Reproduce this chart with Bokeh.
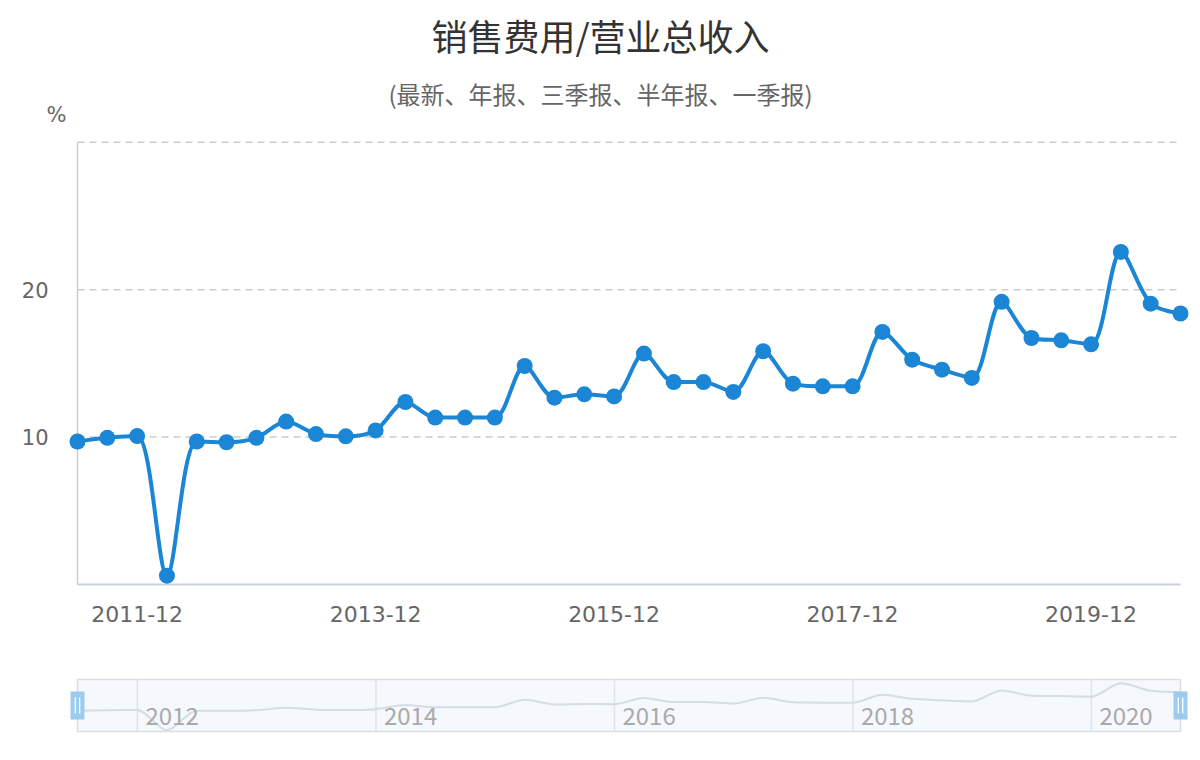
import math

from bokeh.plotting import figure
from bokeh.models import Range1d, FixedTicker
from bokeh.layouts import column, row
from bokeh.embed import file_html
from bokeh.resources import INLINE
from bokeh.core.properties import value

# quarterly report periods
periods = [
    "2011-06", "2011-09", "2011-12",
    "2012-03", "2012-06", "2012-09", "2012-12",
    "2013-03", "2013-06", "2013-09", "2013-12",
    "2014-03", "2014-06", "2014-09", "2014-12",
    "2015-03", "2015-06", "2015-09", "2015-12",
    "2016-03", "2016-06", "2016-09", "2016-12",
    "2017-03", "2017-06", "2017-09", "2017-12",
    "2018-03", "2018-06", "2018-09", "2018-12",
    "2019-03", "2019-06", "2019-09", "2019-12",
    "2020-03", "2020-06", "2020-09",
]

# 销售费用/营业总收入 (%)
ratio = [
    9.70, 9.95, 10.07,
    0.60, 9.70, 9.65, 9.95,
    11.05, 10.20, 10.05, 10.45,
    12.38, 11.32, 11.32, 11.32,
    14.82, 12.67, 12.90, 12.76,
    15.66, 13.73, 13.73, 13.06,
    15.82, 13.62, 13.44, 13.44,
    17.13, 15.25, 14.57, 14.01,
    19.17, 16.72, 16.56, 16.29,
    22.56, 19.05, 18.38,
]

x_tick_labels = ["2011-12", "2013-12", "2015-12", "2017-12", "2019-12"]
y_ticks = [10, 20]
y_grid = [10, 20, 30]
slider_years = ["2012", "2014", "2016", "2018", "2020"]

title_text = "销售费用/营业总收入"
subtitle_text = "(最新、年报、三季报、半年报、一季报)"
unit_text = "%"

CJK = "Noto Sans CJK SC"
NUM = "DejaVu Sans"
BLUE = "#1a86d5"

n = len(ratio)
idx = list(range(n))

# layout (pixels)
FIG_W = 1192
BORDER_L, BORDER_R = 62, 2
FRAME_W = FIG_W - BORDER_L - BORDER_R
PAD_L, PAD_R = 15, 10            # space between frame edge and first/last point
PX = (FRAME_W - PAD_L - PAD_R) / (n - 1)
Y_MAX = 30
PY = 442.3 / Y_MAX               # px per percent in the main chart
MAIN_FRAME_H = 452
PAD_TOP, PAD_BOT = 5.7, 4        # px above 30 and below 0
HEADER_H = 132

SHADOW_TOP = 24.3
SL_FRAME_H = 58
SL_PY = 52 / SHADOW_TOP
SL_PAD_TOP, SL_PAD_BOT = 3, 3


def smooth_segments(xs, ys, sx, sy, smooth=0.3):
    # echarts-like bezier smoothing, computed in pixel space
    pts = [(x * sx, y * sy) for x, y in zip(xs, ys)]
    out = {k: [] for k in ("x0", "y0", "x1", "y1", "cx0", "cy0", "cx1", "cy1")}
    cp0 = pts[0]
    for i in range(1, len(pts)):
        px, py = pts[i - 1]
        x, y = pts[i]
        if i == len(pts) - 1:
            c1 = (x, y)
            ncp = (x, y)
        else:
            nx, ny = pts[i + 1]
            vx, vy = nx - px, ny - py
            lp = math.hypot(x - px, y - py)
            ln = math.hypot(nx - x, ny - y)
            r = ln / (ln + lp)
            ncx = x + vx * smooth * r
            ncy = y + vy * smooth * r
            ncx = max(min(ncx, max(nx, x)), min(nx, x))
            ncy = max(min(ncy, max(ny, y)), min(ny, y))
            vx, vy = ncx - x, ncy - y
            c1x = x - vx * lp / ln
            c1y = y - vy * lp / ln
            c1x = max(min(c1x, max(px, x)), min(px, x))
            c1y = max(min(c1y, max(py, y)), min(py, y))
            vx, vy = x - c1x, y - c1y
            ncp = (x + vx * ln / lp, y + vy * ln / lp)
            c1 = (c1x, c1y)
        out["x0"].append(px / sx)
        out["y0"].append(py / sy)
        out["x1"].append(x / sx)
        out["y1"].append(y / sy)
        out["cx0"].append(cp0[0] / sx)
        out["cy0"].append(cp0[1] / sy)
        out["cx1"].append(c1[0] / sx)
        out["cy1"].append(c1[1] / sy)
        cp0 = ncp
    return out


x_range_start = -PAD_L / PX
x_range_end = (n - 1) + PAD_R / PX

# header with title, subtitle and unit (page px, y up from header bottom)
h = figure(
    width=FIG_W, height=HEADER_H,
    x_range=Range1d(0, FIG_W), y_range=Range1d(0, HEADER_H),
    x_axis_type=None, y_axis_type=None, min_border=0,
    output_backend="svg", toolbar_location=None, tools="",
)
h.outline_line_color = None
h.grid.visible = False
h.text(x=[600], y=[HEADER_H - 34], text=[title_text], text_align="center",
       text_baseline="middle", text_font=value(CJK), text_font_size="36px",
       text_color="#333333")
h.text(x=[600], y=[HEADER_H - 93], text=[subtitle_text], text_align="center",
       text_baseline="middle", text_font=value(CJK), text_font_size="24px",
       text_color="#666666")
h.text(x=[56], y=[HEADER_H - 114], text=[unit_text], text_align="center",
       text_baseline="middle", text_font=value(NUM), text_font_size="21px",
       text_color="#666666")

p = figure(
    frame_width=FRAME_W, frame_height=MAIN_FRAME_H,
    x_range=Range1d(x_range_start, x_range_end),
    y_range=Range1d(-PAD_BOT / PY, Y_MAX + PAD_TOP / PY),
    min_border_left=BORDER_L, min_border_right=BORDER_R,
    min_border_top=4, min_border_bottom=72,
    output_backend="svg", toolbar_location=None, tools="",
)
p.outline_line_color = None
p.xgrid.visible = False
p.ygrid.visible = False

# grid lines and axis lines
p.segment(x0=0, x1=n - 1, y0=y_grid, y1=y_grid, line_color="#cccccc",
          line_width=1.5, line_dash="7 5")
p.segment(x0=0, x1=0, y0=0, y1=max(y_grid), line_color="#cccccc", line_width=1.5)
p.segment(x0=0, x1=n - 1, y0=0, y1=0, line_color="#c9d2dc", line_width=2)

tick_idx = [periods.index(t) for t in x_tick_labels]
p.xaxis.ticker = FixedTicker(ticks=tick_idx)
p.xaxis.major_label_overrides = {i: t for i, t in zip(tick_idx, x_tick_labels)}
p.yaxis.ticker = FixedTicker(ticks=y_ticks)
for ax in (p.xaxis[0], p.yaxis[0]):
    ax.axis_line_color = None
    ax.major_tick_line_color = None
    ax.minor_tick_line_color = None
    ax.major_label_text_font = NUM
    ax.major_label_text_color = "#666666"
p.xaxis.major_label_text_font_size = "22px"
p.yaxis.major_label_text_font_size = "21px"
p.xaxis.major_label_standoff = 11
p.yaxis.major_label_standoff = 8

seg = smooth_segments(idx, ratio, PX, PY)
p.bezier(x0=seg["x0"], y0=seg["y0"], x1=seg["x1"], y1=seg["y1"],
         cx0=seg["cx0"], cy0=seg["cy0"], cx1=seg["cx1"], cy1=seg["cy1"],
         line_color=BLUE, line_width=4, line_cap="round")
p.scatter(idx, ratio, size=16, fill_color=BLUE, line_color=BLUE, line_width=0)

# data zoom slider below the chart
s = figure(
    frame_width=FRAME_W, frame_height=SL_FRAME_H,
    x_range=Range1d(x_range_start, x_range_end),
    y_range=Range1d(-SL_PAD_BOT / SL_PY, SHADOW_TOP + SL_PAD_TOP / SL_PY),
    min_border_left=BORDER_L, min_border_right=BORDER_R,
    min_border_top=16, min_border_bottom=18,
    output_backend="svg", toolbar_location=None, tools="",
)
s.outline_line_color = None
s.axis.visible = False
s.grid.visible = False

s.quad(left=0, right=n - 1, bottom=0, top=SHADOW_TOP, fill_color="#f5f8fc",
       line_color="#d9dee5", line_width=1.5)

year_x = [periods.index(str(int(y) - 1) + "-12") + 1 / 91 for y in slider_years]
s.segment(x0=year_x, x1=year_x, y0=0, y1=SHADOW_TOP, line_color="#dfe3e9", line_width=1.5)

sseg = smooth_segments(idx, ratio, PX, SL_PY)
s.bezier(x0=sseg["x0"], y0=sseg["y0"], x1=sseg["x1"], y1=sseg["y1"],
         cx0=sseg["cx0"], cy0=sseg["cy0"], cx1=sseg["cx1"], cy1=sseg["cy1"],
         line_color="#d6dce4", line_width=2)

s.text(x=year_x, y=[(731 - 715) / SL_PY] * len(year_x), text=slider_years,
       x_offset=8, text_baseline="middle", text_align="left",
       text_font=value(CJK), text_font_size="24px", text_color="#aaaaaa")

mid = SHADOW_TOP / 2
hx = [0, n - 1]
s.rect(x=hx, y=[mid, mid], width=14, height=28, width_units="screen",
       height_units="screen", fill_color="#9ccbf0", line_color=None)
for off in (-2.2, 2.2):
    bx = [v + off / PX for v in hx]
    s.segment(x0=bx, x1=bx, y0=mid - 8 / SL_PY, y1=mid + 8 / SL_PY,
              line_color="white", line_width=1.3)

# header wrapped in its own row so its frame is not aligned with the charts
layout = column(row(h), p, s, spacing=0)
open("out.html", "w").write(file_html(layout, INLINE))
